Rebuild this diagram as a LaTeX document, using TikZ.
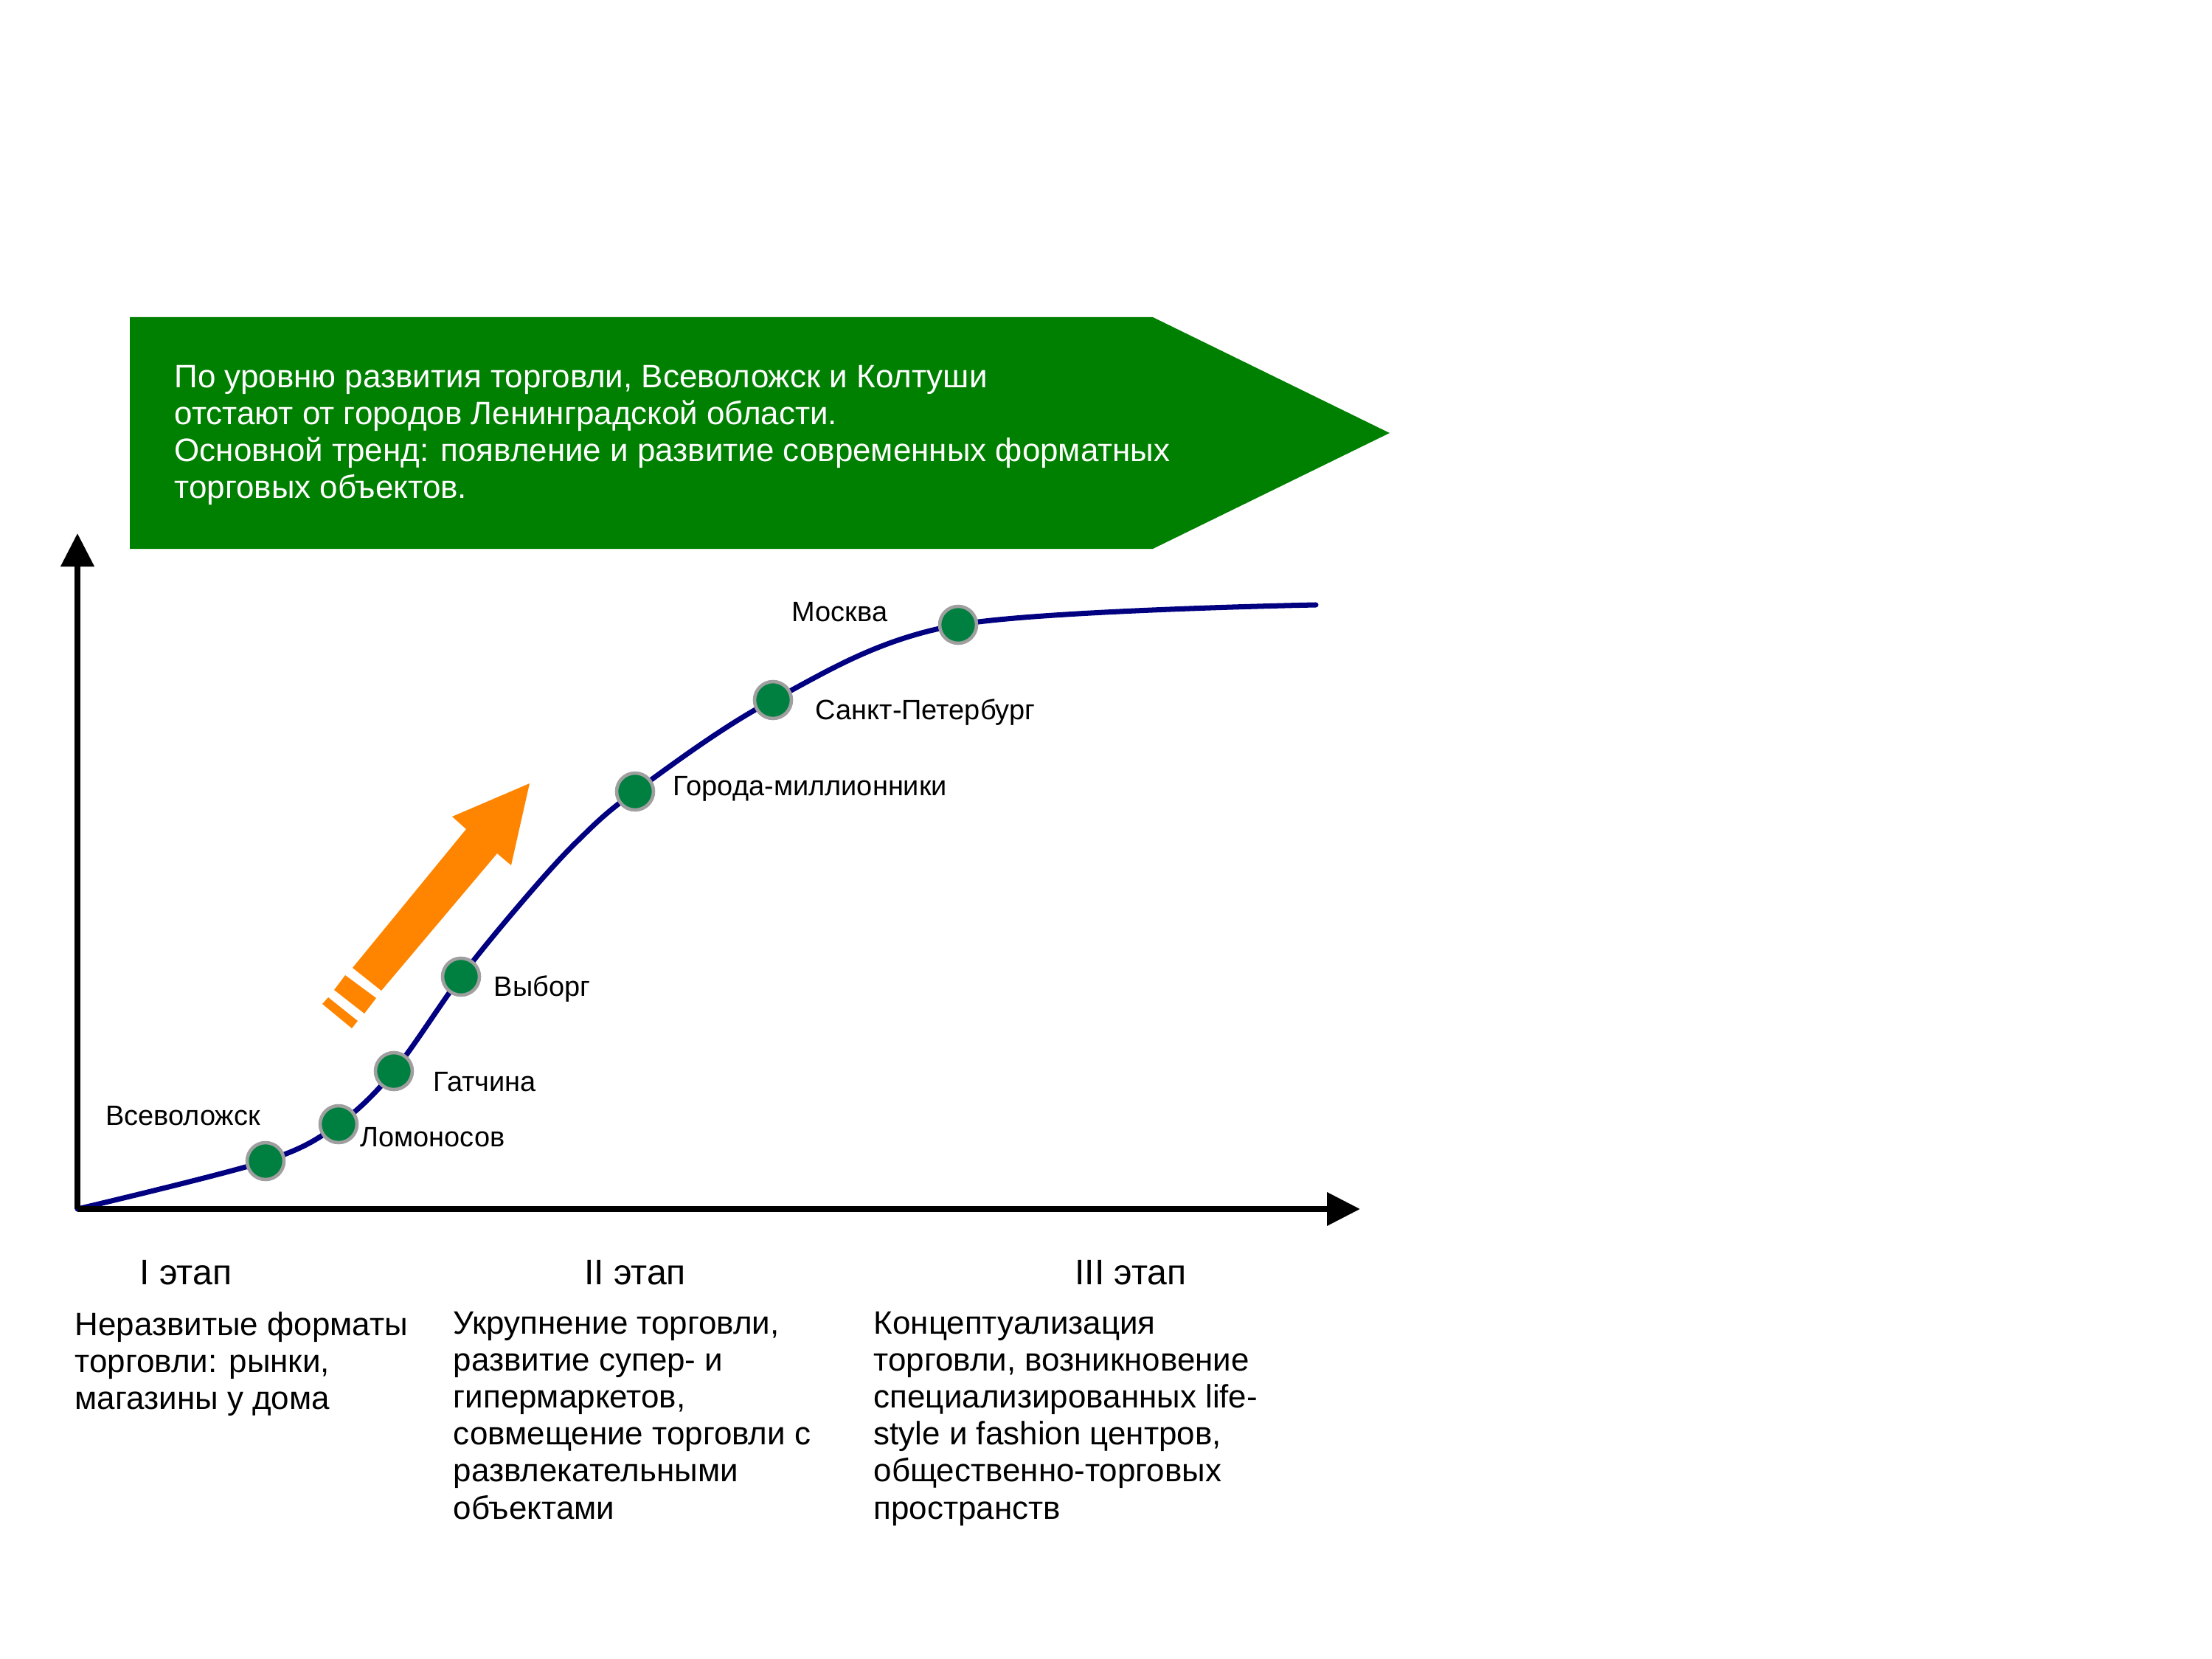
\documentclass[tikz,border=0pt]{standalone}
\usepackage{fontspec}
\setmainfont{Liberation Sans}
\usepackage{xcolor}
\usepackage{tikz}
\usetikzlibrary{arrows.meta,positioning,backgrounds}
\definecolor{bannergreen}{RGB}{0,128,0}
\definecolor{dotgreen}{RGB}{0,128,64}
\definecolor{curveblue}{RGB}{0,0,128}
\definecolor{trendorange}{RGB}{255,133,0}

\begin{document}
\begin{tikzpicture}[
        citydot/.style={circle, fill=dotgreen, draw=gray!75, line width=1.3pt, minimum size=0.5cm, inner sep=0pt},
        citylabel/.style={inner sep=0pt, font=\fontsize{10.8}{13}\selectfont},
        stagehead/.style={inner sep=0pt, font=\fontsize{13.7}{16}\selectfont},
        stagetext/.style={inner sep=0pt, align=left, anchor=north west, font=\fontsize{12.5}{14.23}\selectfont},
        axisline/.style={line width=2.1pt, -{Triangle[length=0.45cm,width=0.44cm]}}
    ]
        \useasboundingbox (0,0) rectangle (29.99,-22.49);

        % Banner
        \fill[bannergreen] (1.76,-4.30) -- (15.63,-4.30) -- (18.84,-5.87) -- (15.63,-7.44) -- (1.76,-7.44) -- cycle;
        \node[inner sep=0pt, align=left, anchor=north west, text=white, font=\fontsize{12.5}{14.23}\selectfont] (banner) at (2.36,-4.95)
            {По уровню развития торговли, Всеволожск и Колтуши\\
             отстают от городов Ленинградской области.\\
             Основной тренд: появление и развитие современных форматных\\
             торговых объектов.};

        % Axes
        \coordinate (O) at (1.05,-16.39);
        \coordinate (ytip) at (1.05,-7.23);
        \coordinate (xtip) at (18.44,-16.39);
        \draw[axisline] (O) -- (ytip);
        \draw[axisline] (O) -- (xtip);

        % Cities
        \node[citydot] (vsev) at (3.60,-15.74) {};
        \node[citydot] (lomo) at (4.59,-15.24) {};
        \node[citydot] (gatch) at (5.34,-14.52) {};
        \node[citydot] (vyb) at (6.25,-13.24) {};
        \node[citydot] (mill) at (8.61,-10.73) {};
        \node[citydot] (spb) at (10.48,-9.49) {};
        \node[citydot] (msk) at (12.99,-8.47) {};
        \coordinate (bend1) at (7.10,-12.20);
        \coordinate (bend2) at (7.83,-11.40);
        \coordinate (curveend) at (17.84,-8.20);

        \node[citylabel] (vsevlbl) at (2.48,-15.13) {Всеволожск};
        \node[citylabel, anchor=west] (lomolbl) at (4.88,-15.42) {Ломоносов};
        \node[citylabel, anchor=west] (gatchlbl) at (5.87,-14.67) {Гатчина};
        \node[citylabel, anchor=west] (vyblbl) at (6.69,-13.41) {Выборг};
        \node[citylabel, anchor=west] (milllbl) at (9.12,-10.69) {Города-миллионники};
        \node[citylabel, anchor=west] (spblbl) at (11.05,-9.66) {Санкт-Петербург};
        \node[citylabel, anchor=west] (msklbl) at (10.73,-8.30) {Москва};

        % Curve behind the dots
        \begin{scope}[on background layer]
            \draw[curveblue, line width=2pt, line cap=round] plot[smooth, tension=0.55]
                coordinates {(O) (vsev) (lomo) (gatch) (vyb) (bend1) (bend2) (mill) (spb) (msk) (curveend)};
        \end{scope}

        % Trend arrow
        \fill[trendorange] (7.18,-10.62) -- (6.93,-11.73) -- (6.74,-11.57) -- (5.17,-13.43)
            -- (4.78,-13.12) -- (6.32,-11.24) -- (6.13,-11.07) -- cycle;
        \fill[trendorange] (4.68,-13.22) -- (5.10,-13.53) -- (4.94,-13.74) -- (4.53,-13.42) -- cycle;
        \fill[trendorange] (4.45,-13.52) -- (4.85,-13.84) -- (4.77,-13.94) -- (4.37,-13.61) -- cycle;

        % Stages
        \node[stagehead] (st1) at (2.52,-17.25) {I этап};
        \node[stagehead] (st2) at (8.61,-17.25) {II этап};
        \node[stagehead] (st3) at (15.33,-17.25) {III этап};

        \node[stagetext] (st1txt) at (1.01,-17.78)
            {Неразвитые форматы\\торговли: рынки,\\магазины у дома};
        \node[stagetext] (st2txt) at (6.14,-17.78)
            {Укрупнение торговли,\\развитие супер- и\\гипермаркетов,\\совмещение торговли с\\развлекательными\\объектами};
        \node[stagetext] (st3txt) at (11.84,-17.78)
            {Концептуализация\\торговли, возникновение\\специализированных life-\\style и fashion центров,\\общественно-торговых\\пространств};
    \end{tikzpicture}
\end{document}
